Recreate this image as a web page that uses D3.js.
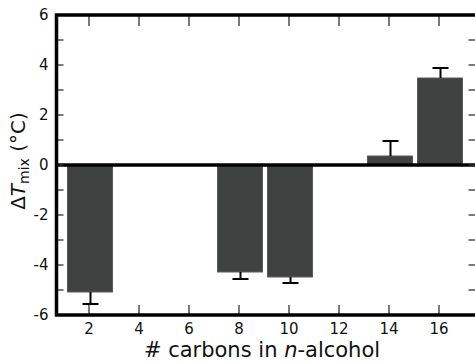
<!DOCTYPE html>
<html>
<head>
<meta charset="utf-8">
<script src="https://cdn.jsdelivr.net/npm/d3@7"></script>
<style>
  html, body { margin: 0; padding: 0; background: #fff; }
  text { font-family: "DejaVu Sans", sans-serif; }
</style>
</head>
<body>
<svg id="SVG_CONTAINER"></svg>
<script>
let d3 = window.d3;

// data
let carbons = [2, 8, 10, 14, 16];
let deltaT  = [-5.08, -4.28, -4.48, 0.36, 3.48];
let errs    = [0.48, 0.28, 0.24, 0.60, 0.40];

let xTicks = [2, 4, 6, 8, 10, 12, 14, 16];
let yTicks = [-6, -4, -2, 0, 2, 4, 6];
let yMinor = [-5, -3, -1, 1, 3, 5];

const width = 475, height = 362;
const MARGIN = { LEFT: 56, RIGHT: -4, TOP: 15, BOTTOM: 47 };

let svg = d3.select("#SVG_CONTAINER").attr("width", width).attr("height", height);

let xScale = d3.scaleLinear()
  .domain([0.7, 17.58])
  .range([MARGIN.LEFT + 0.5, width - MARGIN.RIGHT - 0.5]);

let yScale = d3.scaleLinear()
  .domain([-6, 6])
  .range([height - MARGIN.BOTTOM, MARGIN.TOP]);

let x0 = xScale.range()[0], x1 = xScale.range()[1];
let yB = yScale(-6), yT = yScale(6);

// bars
let barW = 1.8;
svg.append("g").selectAll("rect")
  .data(carbons)
  .enter()
  .append("rect")
    .attr("x", (d) => xScale(d - barW / 2) + 1)
    .attr("width", xScale(barW) - xScale(0))
    .attr("y", (d, i) => yScale(Math.max(0, deltaT[i])))
    .attr("height", (d, i) => Math.abs(yScale(deltaT[i]) - yScale(0)))
    .attr("fill", "#404241")
    .attr("stroke", "#5a5c5b")
    .attr("stroke-width", 1);

// one-sided error bars
let eb = svg.append("g").attr("stroke", "#000").attr("stroke-width", 2);
carbons.forEach((c, i) => {
  let cx = xScale(c) + 1.5;
  let end = deltaT[i] < 0 ? deltaT[i] - errs[i] : deltaT[i] + errs[i];
  eb.append("line")
    .attr("x1", cx).attr("x2", cx)
    .attr("y1", yScale(deltaT[i])).attr("y2", yScale(end));
  eb.append("line")
    .attr("x1", cx - 8).attr("x2", cx + 8)
    .attr("y1", yScale(end)).attr("y2", yScale(end));
});

// zero line
svg.append("line")
  .attr("x1", x0).attr("x2", x1)
  .attr("y1", yScale(0)).attr("y2", yScale(0))
  .attr("stroke", "#000").attr("stroke-width", 3.5);

// ticks (inward, all four sides)
let ticks = svg.append("g").attr("stroke", "#333").attr("stroke-width", 1.3);
xTicks.forEach(t => {
  ticks.append("line").attr("x1", xScale(t)).attr("x2", xScale(t)).attr("y1", yB).attr("y2", yB - 10);
  ticks.append("line").attr("x1", xScale(t)).attr("x2", xScale(t)).attr("y1", yT).attr("y2", yT + 11);
});
yTicks.concat(yMinor).forEach(t => {
  ticks.append("line").attr("x1", x0).attr("x2", x0 + 7).attr("y1", yScale(t)).attr("y2", yScale(t));
  ticks.append("line").attr("x1", x1).attr("x2", x1 - 10).attr("y1", yScale(t)).attr("y2", yScale(t));
});

// spines
let spines = svg.append("g").attr("stroke", "#000").attr("stroke-width", 3.5).attr("fill", "none");
spines.append("rect")
  .attr("x", x0).attr("y", yT)
  .attr("width", x1 - x0).attr("height", yB - yT);

// tick labels
svg.append("g").selectAll("text")
  .data(xTicks)
  .enter()
  .append("text")
    .attr("x", d => xScale(d))
    .attr("y", yB + 19)
    .attr("text-anchor", "middle")
    .attr("font-size", "15px")
    .attr("fill", "#111")
    .text(d => d);

svg.append("g").selectAll("text")
  .data(yTicks)
  .enter()
  .append("text")
    .attr("x", x0 - 8)
    .attr("y", d => yScale(d))
    .attr("dy", "0.36em")
    .attr("text-anchor", "end")
    .attr("font-size", "15px")
    .attr("fill", "#111")
    .text(d => d);

// axis labels
let xl = svg.append("text")
  .attr("x", 262)
  .attr("y", 357)
  .attr("text-anchor", "middle")
  .attr("font-size", "21px")
  .attr("fill", "#111");
xl.append("tspan").text("# carbons in ");
xl.append("tspan").attr("font-style", "italic").text("n");
xl.append("tspan").text("-alcohol");

let yl = svg.append("text")
  .attr("transform", "translate(25,161) rotate(-90)")
  .attr("text-anchor", "middle")
  .attr("font-size", "20px")
  .attr("fill", "#111");
yl.append("tspan").text("\u0394");
yl.append("tspan").attr("font-style", "italic").text("T");
yl.append("tspan").attr("font-size", "14px").attr("dy", 4).text("mix");
yl.append("tspan").attr("dy", -4).text(" (\u00b0C)");
</script>
</body>
</html>
